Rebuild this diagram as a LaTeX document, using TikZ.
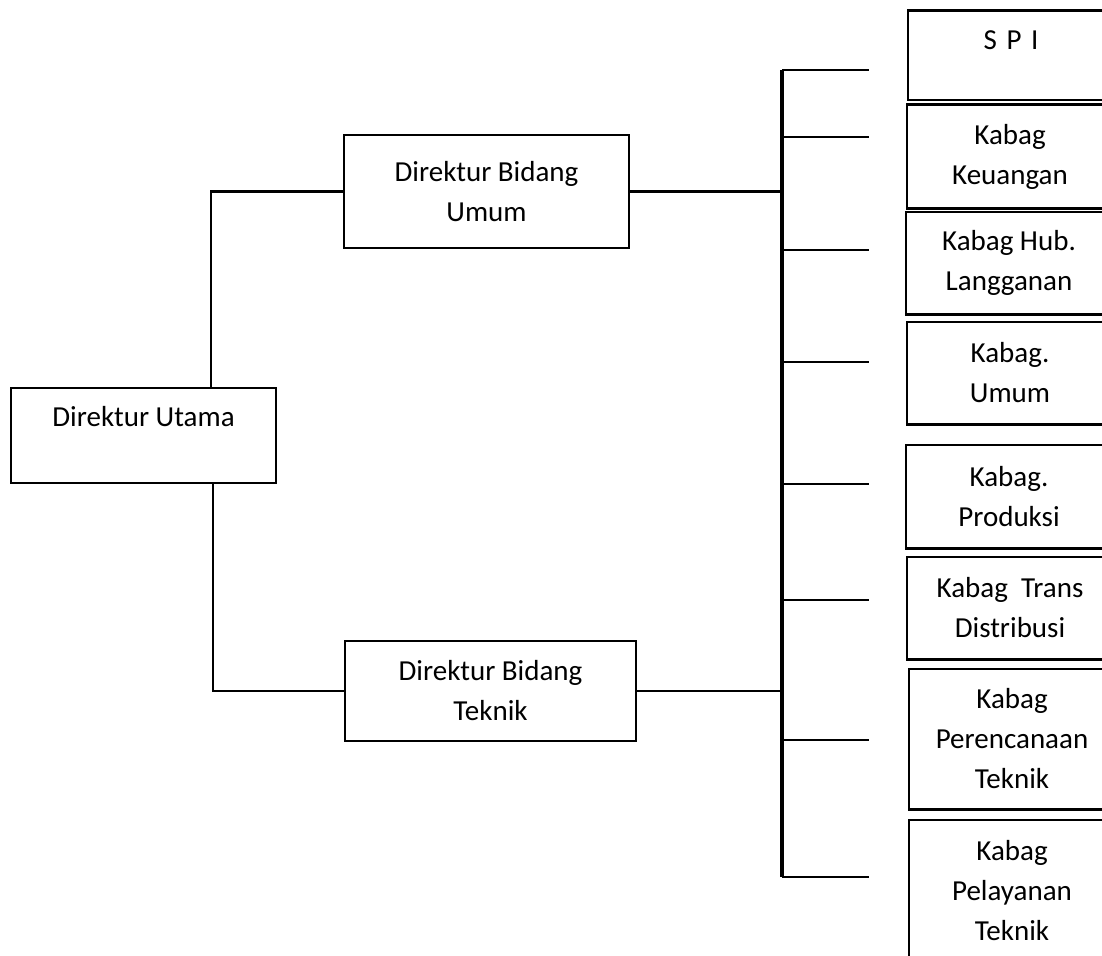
\documentclass[tikz,border=0pt]{standalone}
\usepackage{fontspec}
\setmainfont{Carlito}
\usetikzlibrary{shapes, arrows, positioning, calc}

\begin{document}
\begin{tikzpicture}[x=1pt, y=-1pt,
  kotak/.style={draw, line width=2.5pt, align=center, inner sep=0pt,
    font=\fontsize{29}{40}\selectfont},
  bagian/.style={kotak, draw=none, minimum width=204},
  garis/.style={line width=2.5pt}]
\useasboundingbox (0,0) rectangle (1102,955);
\clip (0,0) rectangle (1102,955);

% direksi
\node[kotak, minimum width=265, minimum height=95] (dirut) at (143.5,435.5) {Direktur Utama\\[-14pt]\strut};
\node[kotak, minimum width=285, minimum height=113] (dirum) at (486.5,191.5) {Direktur Bidang\\Umum};
\node[kotak, minimum width=291, minimum height=100] (dirtek) at (490.5,691) {Direktur Bidang\\Teknik};

% kepala bagian (sisi kanan terpotong)
\node[bagian, minimum height=87] (spi) at (1011,55.5) {S\,\,P\,\,I\\[-22pt]\strut};
\node[bagian, minimum height=101] (keu) at (1010,156.5) {Kabag\\Keuangan};
\node[bagian, minimum height=100] (hub) at (1009,263) {Kabag Hub.\\Langganan};
\node[bagian, minimum height=100] (umum) at (1010,373) {Kabag.\\Umum};
\node[bagian, minimum height=101] (prod) at (1009,496.5) {Kabag.\\Produksi};
\node[bagian, minimum height=100] (trans) at (1010,608) {Kabag\ \ Trans\\Distribusi};
\node[bagian, minimum height=138] (renc) at (1012,739) {Kabag\\Perencanaan\\Teknik};
\node[bagian, minimum height=140] (layan) at (1012,891) {Kabag\\Pelayanan\\Teknik};
\foreach \n in {spi,keu,hub,umum,prod,trans,renc,layan}
  \draw[garis] ([xshift=30]\n.north east) -- (\n.north west) -- (\n.south west) -- ([xshift=30]\n.south east);

\coordinate (bus) at (782,0);
\draw[garis] ($(dirut.north)+(67.5,0)$) |- (dirum.west);
\draw[garis] ($(dirut.south)+(69.5,0)$) |- (dirtek.west);
\draw[garis] (dirum.east) -- (dirum.east -| bus);
\draw[garis] (dirtek.east) -- (dirtek.east -| bus);

\foreach \y [count=\i] in {70,137,250,362,484,600,740,877} {
  \coordinate (cab\i) at (869,\y);
  \draw[garis] (cab\i -| bus) -- (cab\i);
}
\draw[line width=3.5pt] (cab1 -| bus) -- (cab8 -| bus);
\end{tikzpicture}
\end{document}
